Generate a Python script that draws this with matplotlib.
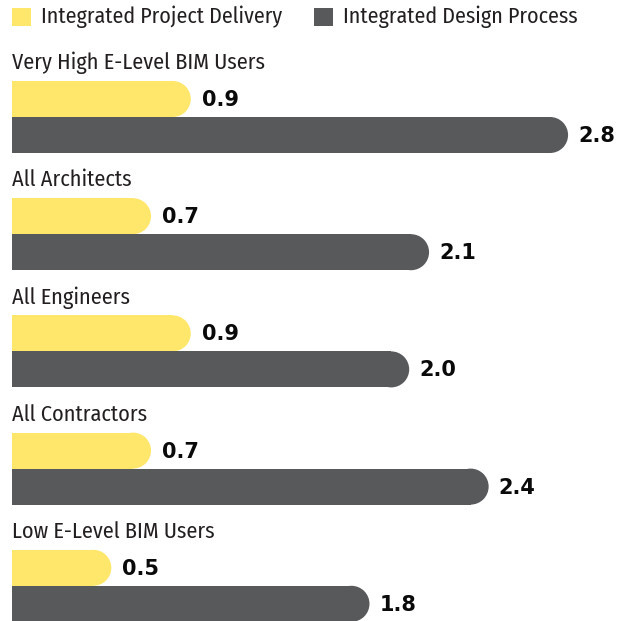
import matplotlib
matplotlib.use("Agg")
import matplotlib.pyplot as plt
from matplotlib.patches import Ellipse, Rectangle

categories = ["Very High E-Level BIM Users", "All Architects", "All Engineers",
              "All Contractors", "Low E-Level BIM Users"]
ipd_values = [0.9, 0.7, 0.9, 0.7, 0.5]
idp_values = [2.8, 2.1, 2.0, 2.4, 1.8]
series_names = ["Integrated Project Delivery", "Integrated Design Process"]

YELLOW = "#FFE76C"
DARK = "#58595B"
W, H = 623, 621
PX_PER_UNIT = 198.6
X0 = 12  # pixel of value 0

fig = plt.figure(figsize=(W / 100, H / 100), dpi=100)
ax = fig.add_axes([0, 0, 1, 1])
ax.set_xlim(-X0 / PX_PER_UNIT, (W - X0) / PX_PER_UNIT)
ax.set_ylim(H, 0)
ax.axis("off")

label_font = dict(family=["Fira Sans Condensed", "DejaVu Sans"], size=16, color="#231F20")
legend_font = dict(family=["Fira Sans Condensed", "DejaVu Sans"], size=15.8, color="#231F20")
value_font = dict(family="DejaVu Sans", weight="bold", size=15, color="#0A0A0A")

bar_h = 36
rx = (bar_h / 2) / PX_PER_UNIT
first_top = 81
spacing = 117.2


def rounded_bar(y_center, value, color):
    ax.add_patch(Rectangle((0, y_center - bar_h / 2), value - rx, bar_h,
                           facecolor=color, edgecolor="none"))
    ax.add_patch(Ellipse((value - rx, y_center), 2 * rx, bar_h,
                         facecolor=color, edgecolor="none"))


for i, (cat, v1, v2) in enumerate(zip(categories, ipd_values, idp_values)):
    top = first_top + i * spacing
    ax.text(0, top - 18, cat, va="center", ha="left", **label_font)
    yc1 = top + bar_h / 2
    yc2 = top + bar_h * 1.5
    rounded_bar(yc1, v1, YELLOW)
    rounded_bar(yc2, v2, DARK)
    ax.text(v1 + 11 / PX_PER_UNIT, yc1 + 1, f"{v1:.1f}", va="center", ha="left", **value_font)
    ax.text(v2 + 10 / PX_PER_UNIT, yc2 + 1, f"{v2:.1f}", va="center", ha="left", **value_font)

# legend
for x_sq, color, name in [(12, YELLOW, series_names[0]), (314, DARK, series_names[1])]:
    ax.add_patch(Rectangle(((x_sq - X0) / PX_PER_UNIT, 8), 19 / PX_PER_UNIT, 18,
                           facecolor=color, edgecolor="none"))
    ax.text((x_sq + 29 - X0) / PX_PER_UNIT, 17, name, va="center", ha="left", **legend_font)

fig.savefig("out.png", dpi=100, facecolor="white")
